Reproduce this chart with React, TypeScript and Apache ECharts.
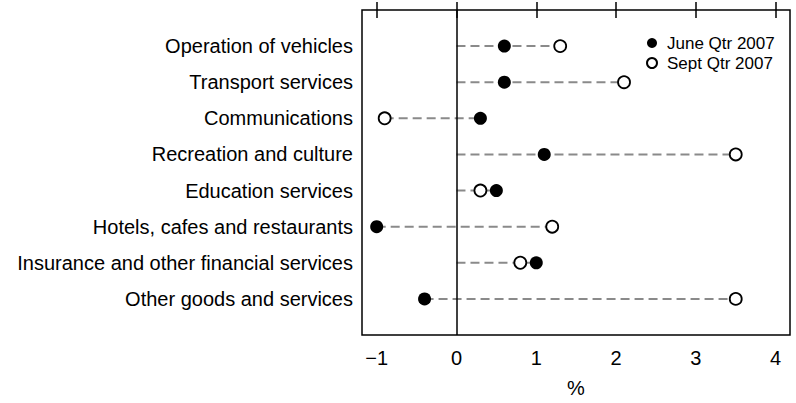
import React, { useEffect, useRef } from "react";
import * as echarts from "echarts";

const categories = [
  "Operation of vehicles",
  "Transport services",
  "Communications",
  "Recreation and culture",
  "Education services",
  "Hotels, cafes and restaurants",
  "Insurance and other financial services",
  "Other goods and services",
];
const juneQtr2007 = [0.6, 0.6, 0.3, 1.1, 0.5, -1.0, 1.0, -0.4];
const septQtr2007 = [1.3, 2.1, -0.9, 3.5, 0.3, 1.2, 0.8, 3.5];
const xTicks = [-1, 0, 1, 2, 3, 4];

const FONT = "'Liberation Sans', Arial, sans-serif";

export default function App() {
  const ref = useRef<HTMLDivElement>(null);
  useEffect(() => {
    if (!ref.current) return;
    const chart = echarts.init(ref.current, null, { renderer: "svg" });
    const rangeData = categories.map((_, i) => [
      Math.min(0, juneQtr2007[i], septQtr2007[i]),
      Math.max(0, juneQtr2007[i], septQtr2007[i]),
      i + 1,
    ]);
    const fmt = (v: number) => (v < 0 ? "\u2212" + Math.abs(v) : String(v));
    chart.setOption({
      animation: false,
      backgroundColor: "#ffffff",
      textStyle: { fontFamily: FONT },
      grid: {
        left: 362,
        right: 6,
        top: 10,
        bottom: 65,
        show: true,
        borderColor: "#000",
        borderWidth: 1.5,
        backgroundColor: "transparent",
      },
      legend: {
        orient: "vertical",
        left: 641,
        top: 29,
        itemWidth: 10,
        itemHeight: 10,
        itemGap: 2,
        textStyle: {
          fontSize: 17,
          color: "#000",
          fontFamily: FONT,
          lineHeight: 18,
          padding: [0, 0, 0, 5],
        },
        data: ["June Qtr 2007", "Sept Qtr 2007"],
      },
      xAxis: [
        {
          type: "value",
          position: "bottom",
          min: -1.184,
          max: 4.18,
          name: "%",
          nameLocation: "middle",
          nameGap: 43,
          nameTextStyle: { fontSize: 20, color: "#000", fontFamily: FONT },
          axisLine: { show: false },
          splitLine: { show: false },
          axisTick: {
            show: true,
            inside: false,
            length: 8,
            lineStyle: { color: "#000", width: 1.5 },
            customValues: xTicks,
          },
          axisLabel: {
            fontSize: 20,
            color: "#000",
            margin: 13,
            fontFamily: FONT,
            customValues: xTicks,
            formatter: fmt,
          },
        },
        {
          type: "value",
          position: "top",
          min: -1.184,
          max: 4.18,
          axisLine: { show: false },
          splitLine: { show: false },
          axisTick: {
            show: true,
            inside: false,
            length: 8,
            lineStyle: { color: "#000", width: 1.5 },
            customValues: xTicks,
          },
          axisLabel: { show: false },
        },
      ],
      yAxis: {
        type: "value",
        min: 0,
        max: 9,
        interval: 1,
        inverse: true,
        axisLine: { show: false },
        axisTick: { show: false },
        splitLine: { show: false },
        axisLabel: {
          fontSize: 20,
          color: "#000",
          margin: 9,
          fontFamily: FONT,
          formatter: (v: number) => categories[v - 1] ?? "",
        },
      },
      series: [
        {
          type: "custom",
          name: "range",
          silent: true,
          z: 1,
          renderItem: (params: any, api: any) => {
            const p1 = api.coord([api.value(0), api.value(2)]);
            const p2 = api.coord([api.value(1), api.value(2)]);
            return {
              type: "line",
              shape: { x1: p1[0], y1: p1[1], x2: p2[0], y2: p2[1] },
              style: { stroke: "#8a8a8a", lineWidth: 2, lineDash: [9, 5] },
            };
          },
          encode: { x: [0, 1], y: 2 },
          data: rangeData,
          markLine: {
            silent: true,
            symbol: "none",
            label: { show: false },
            lineStyle: { color: "#000", type: "solid", width: 1.5 },
            data: [{ xAxis: 0 }],
          },
        },
        {
          type: "scatter",
          name: "June Qtr 2007",
          symbol: "circle",
          symbolSize: 13,
          z: 3,
          itemStyle: { color: "#000", borderColor: "#000", borderWidth: 0, opacity: 1 },
          data: juneQtr2007.map((v, i) => [v, i + 1]),
        },
        {
          type: "scatter",
          name: "Sept Qtr 2007",
          symbol: "circle",
          symbolSize: 12,
          z: 3,
          itemStyle: { color: "#fff", borderColor: "#000", borderWidth: 1.8, opacity: 1 },
          data: septQtr2007.map((v, i) => [v, i + 1]),
        },
      ],
    });
    return () => chart.dispose();
  }, []);
  return <div ref={ref} style={{ width: 796, height: 403, position: "absolute", left: 0, top: 0 }} />;
}
